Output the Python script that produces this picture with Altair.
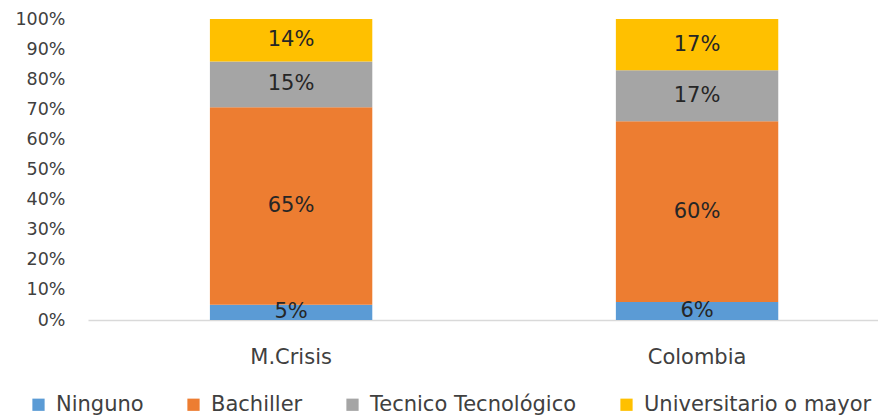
import altair as alt
import pandas as pd

categories = ["M.Crisis", "Colombia"]
levels = ["Ninguno", "Bachiller", "Tecnico Tecnológico", "Universitario o mayor"]
mcrisis_values = [5, 65, 15, 14]
colombia_values = [6, 60, 17, 17]
colors = ["#5B9BD5", "#ED7D31", "#A5A5A5", "#FFC000"]
y_ticks = [0, 0.1, 0.2, 0.3, 0.4, 0.5, 0.6, 0.7, 0.8, 0.9, 1.0]

rows = []
for cat, vals in zip(categories, [mcrisis_values, colombia_values]):
    for i, (lvl, v) in enumerate(zip(levels, vals)):
        rows.append({"cat": cat, "level": lvl, "order": i, "value": v, "label": f"{v}%"})
df = pd.DataFrame(rows)

FONT = "DejaVu Sans"

base = alt.Chart(df).transform_stack(
    stack="value", as_=["y0", "y1"], groupby=["cat"], sort=[alt.SortField("order")], offset="normalize"
).transform_calculate(mid="(datum.y0 + datum.y1) / 2")

xscale = alt.Scale(paddingInner=0.6, paddingOuter=0.273, align=0.55)
xaxis = alt.Axis(labelAngle=0, ticks=False, domainColor="#d9d9d9", domainWidth=1.5,
                 labelFontSize=21, labelColor="#404040", labelPadding=26, labelFont=FONT)
yscale = alt.Scale(domain=[0, 1], nice=False)
yaxis = alt.Axis(values=y_ticks, format=".0%", domain=False, ticks=False,
                 grid=False, labelFontSize=17.5, labelColor="#404040", labelPadding=23,
                 labelFont=FONT, labelOverlap=False)

bars = base.mark_bar().encode(
    x=alt.X("cat:N", sort=categories, title=None, scale=xscale, axis=xaxis),
    y=alt.Y("y0:Q", title=None, scale=yscale, axis=yaxis),
    y2="y1:Q",
    color=alt.Color("level:N", sort=levels, title=None,
                    scale=alt.Scale(domain=levels, range=colors),
                    legend=alt.Legend(orient="none", direction="horizontal", columns=4,
                                      legendX=-60, legendY=375, symbolType="square", symbolSize=150,
                                      symbolStrokeWidth=0, labelFontSize=21, labelFont=FONT,
                                      labelColor="#404040", labelOffset=7, columnPadding=39,
                                      padding=0, labelLimit=0)),
)

texts = base.mark_text(fontSize=21, font=FONT, color="#262626", baseline="middle").encode(
    x=alt.X("cat:N", sort=categories, title=None, scale=xscale, axis=xaxis),
    y=alt.Y("mid:Q", title=None, scale=yscale, axis=yaxis),
    text="label:N",
)

chart = alt.layer(bars, texts).properties(
    width=790, height=301,
    background="white",
    autosize=alt.AutoSizeParams(type="none"),
    padding={"left": 80, "top": 11, "right": 0, "bottom": 96},
).configure_view(stroke=None)

chart.save("out.html", embed_options={"renderer": "svg", "actions": False})
